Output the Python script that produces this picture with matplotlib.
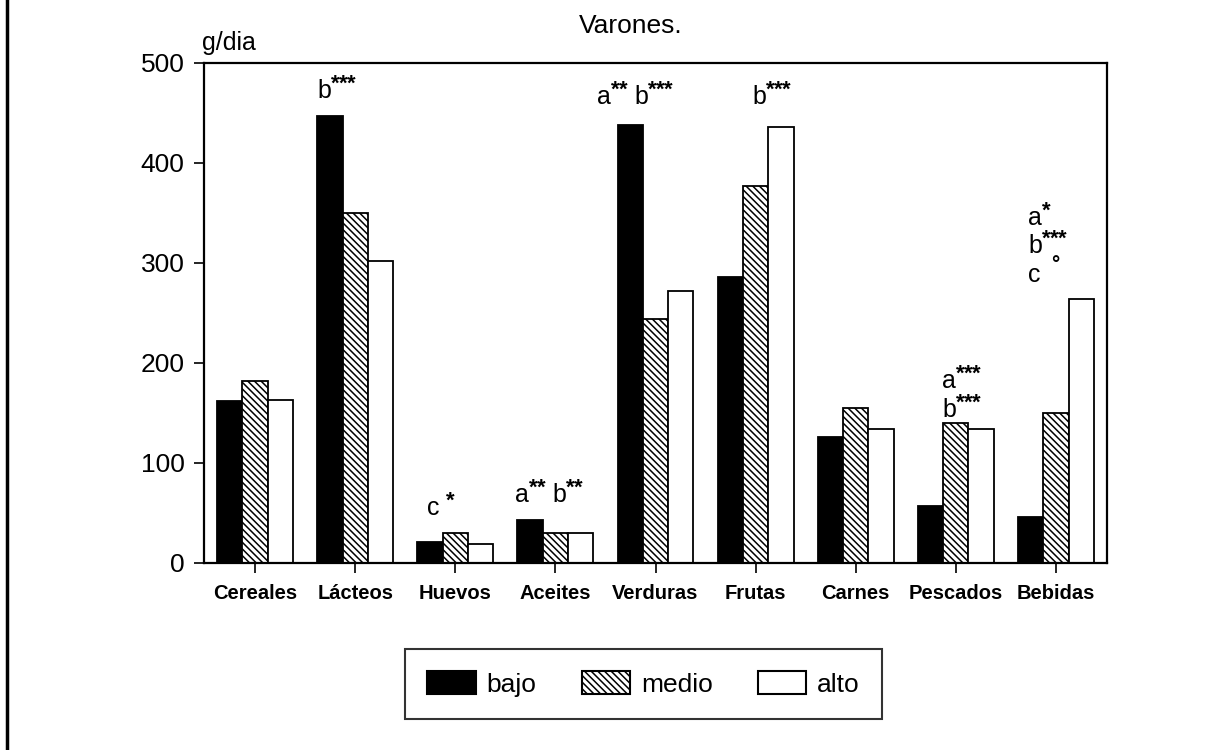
import matplotlib
matplotlib.use('Agg')
from matplotlib import pyplot as plt
from matplotlib.patches import Patch
from matplotlib.lines import Line2D
import numpy as np

plt.rcParams['font.family'] = ['Liberation Sans', 'DejaVu Sans']
plt.rcParams['hatch.linewidth'] = 1.1

# consumo medio (g/dia) por nivel
categories = ['Cereales', 'Lácteos', 'Huevos', 'Aceites', 'Verduras',
              'Frutas', 'Carnes', 'Pescados', 'Bebidas']
bajo = [162, 447, 21, 43, 438, 286, 126, 57, 46]
medio = [182, 350, 30, 30, 244, 377, 155, 140, 150]
alto = [163, 302, 19, 30, 272, 436, 134, 134, 264]
levels = ['bajo', 'medio', 'alto']
yticks = [0, 100, 200, 300, 400, 500]

# significance marks: category, letter, mark
sig_cats = ['Lácteos', 'Huevos', 'Aceites', 'Aceites', 'Verduras', 'Verduras',
            'Frutas', 'Pescados', 'Pescados', 'Bebidas', 'Bebidas', 'Bebidas']
sig_letters = ['b', 'c', 'a', 'b', 'a', 'b', 'b', 'a', 'b', 'a', 'b', 'c']
sig_marks = ['***', '*', '**', '**', '**', '***', '***', '***', '***', '*', '***', '°']

W, H = 1216, 750
fig = plt.figure(figsize=(W / 100, H / 100), dpi=100)
ax = fig.add_axes([204 / W, 187 / H, 903 / W, 500 / H])

x = np.arange(len(categories))
bw = 0.253
ax.bar(x - bw, bajo, bw, color='black', edgecolor='black', linewidth=1.3)
ax.bar(x, medio, bw, color='white', edgecolor='black', linewidth=1.3, hatch='\\\\\\\\\\')
ax.bar(x + bw, alto, bw, color='white', edgecolor='black', linewidth=1.3)

ax.set_xlim(-0.51, 8.51)
ax.set_ylim(0, 500)
ax.set_yticks(yticks)
ax.set_xticks(x)
ax.set_xticklabels(categories, fontsize=14.5, fontweight='bold')
ax.tick_params(axis='y', direction='out', length=7, width=1.2, labelsize=19, pad=7)
ax.tick_params(axis='x', direction='out', length=7, width=1.2, pad=8)
for s in ax.spines.values():
    s.set_linewidth(1.6)


def px(xp, yp):
    # pixel position in the picture -> data coordinates
    return (xp - 255) / 100.1, 563 - yp


# letter positions (left edge, baseline) in picture pixels
sig_pos = [(317, 98), (427, 515), (515, 502), (552, 502), (597, 104), (634, 104),
           (752, 104), (942, 388), (942, 417), (1028, 225), (1028, 253), (1028, 282)]
for cat, let, mark, (xp, yp) in zip(sig_cats, sig_letters, sig_marks, sig_pos):
    lx, ly = px(xp, yp)
    ax.text(lx, ly, let, fontsize=18, ha='left', va='baseline', clip_on=False)
    if mark == '°':
        mx, my = px(xp + 23, yp - 12)
        ax.text(mx, my, mark, fontsize=15, fontweight='bold', ha='left', va='baseline')
        continue
    gap = 19 if cat == 'Huevos' else 14
    for k, ch in enumerate(mark):
        mx, my = px(xp + gap + 8 * k, yp - 8)
        ax.text(mx, my, ch, fontsize=16, fontweight='bold', ha='left', va='baseline')

fig.text(631 / W, 1 - 26 / H, 'Varones.', fontsize=19, ha='center', va='center')
fig.text(202 / W, 1 - 43 / H, 'g/dia', fontsize=18, ha='left', va='center')

handles = [Patch(facecolor='black', edgecolor='black', linewidth=1.5),
           Patch(facecolor='white', edgecolor='black', linewidth=1.5, hatch='\\\\\\\\\\'),
           Patch(facecolor='white', edgecolor='black', linewidth=1.5)]
leg = fig.legend(handles, levels, loc='upper left', bbox_to_anchor=(405 / W, 1 - 649 / H),
                 ncol=3, fontsize=19, frameon=True, fancybox=False, borderaxespad=0,
                 handlelength=1.85, handleheight=0.95, handletextpad=0.4,
                 columnspacing=1.7, borderpad=0.85)
leg.get_frame().set_edgecolor('black')
leg.get_frame().set_linewidth(1.5)

# scan border on the left
fig.add_artist(Line2D([7 / W, 7 / W], [0, 1], color='black', linewidth=2.5))

fig.savefig('out.png', dpi=100)
